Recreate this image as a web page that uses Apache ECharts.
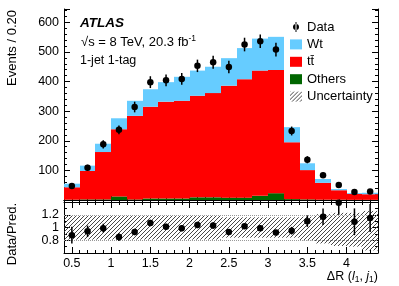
<!DOCTYPE html>
<html><head><meta charset="utf-8">
<script src="https://cdn.jsdelivr.net/npm/echarts@6/dist/echarts.min.js"></script>
<style>html,body{margin:0;padding:0;background:#fff}#c{width:399px;height:286px}</style>
</head><body><div id="c"></div>
<script>
// ---- data ----
const binLow = [0.4, 0.6, 0.8, 1.0, 1.2, 1.4, 1.6, 1.8, 2.0, 2.2, 2.4, 2.6, 2.8, 3.0, 3.2, 3.4, 3.6, 3.8, 4.0, 4.2];
const binWidth = 0.2;
const othersValues = [1, 2, 2, 12, 2, 5, 5, 5, 9, 9, 8, 8, 14, 23, 3, 2, 1, 1, 0.5, 0.5];
const ttbarValues = [42, 96, 160, 227, 282, 310, 327, 330, 343, 352, 378, 400, 423, 416, 192, 99, 57, 32, 20, 19];
const wtValues = [12, 18, 28, 37, 51, 59, 66, 81, 85, 89, 93, 105, 108, 112, 51, 23, 13, 4, 3, 5];
const dataValues = [47, 109, 188, 237, 314, 398, 404, 409, 453, 465, 449, 525, 536, 508, 233, 136, 84, 51, 27, 29];
const dataErrors = [7, 10, 14, 15, 18, 20, 20, 20, 21, 22, 21, 23, 23, 23, 15, 12, 9, 7, 5, 5];
const ratioValues = [0.88, 0.94, 0.99, 0.85, 0.93, 1.07, 1.01, 0.99, 1.04, 1.03, 0.93, 1.02, 0.99, 0.92, 0.95, 1.10, 1.17, 1.39, 1.09, 1.15];
const ratioErrors = [0.13, 0.09, 0.07, 0.06, 0.05, 0.05, 0.05, 0.05, 0.05, 0.05, 0.04, 0.04, 0.04, 0.04, 0.06, 0.09, 0.13, 0.19, 0.21, 0.22];
const bandUp = [1.19, 1.19, 1.19, 1.19, 1.19, 1.19, 1.19, 1.19, 1.19, 1.19, 1.16, 1.16, 1.16, 1.16, 1.16, 1.17, 1.21, 1.23, 1.23, 1.26];
const bandLow = [0.81, 0.81, 0.81, 0.81, 0.81, 0.81, 0.81, 0.81, 0.81, 0.81, 0.84, 0.84, 0.84, 0.84, 0.84, 0.80, 0.75, 0.71, 0.70, 0.64];
const ratioRefLines = [0.8, 1.2];
const legendNames = ['Data', 'Wt', 'tt\u0304', 'Others', 'Uncertainty'];

const FONT = 'Liberation Sans, Arial, Helvetica, sans-serif';

// stacked boxes [xlo, xhi, ybottom, ytop]
const stackOthers = [], stackTtbar = [], stackWt = [];
binLow.forEach((lo, i) => {
  const hi = lo + binWidth;
  const b0 = 0, b1 = othersValues[i], b2 = b1 + ttbarValues[i], b3 = b2 + wtValues[i];
  stackOthers.push([lo, hi, b0, b1]);
  stackTtbar.push([lo, hi, b1, b2]);
  stackWt.push([lo, hi, b2, b3]);
});
const dataPts = binLow.map((lo, i) => [lo + binWidth / 2, dataValues[i]]);
const dataErr = binLow.map((lo, i) => [lo + binWidth / 2, dataValues[i] - dataErrors[i], dataValues[i] + dataErrors[i]]);
const ratioPts = binLow.map((lo, i) => [lo + binWidth / 2, ratioValues[i]]);
const ratioErr = binLow.map((lo, i) => [lo + binWidth / 2, ratioValues[i] - ratioErrors[i], ratioValues[i] + ratioErrors[i]]);
const bandBoxes = binLow.map((lo, i) => [lo, lo + binWidth, bandLow[i], bandUp[i]]);

// hatch pattern
const hc = document.createElement('canvas');
hc.width = 4; hc.height = 4;
const hx = hc.getContext('2d');
hx.strokeStyle = '#333'; hx.lineWidth = 0.9;
hx.beginPath();
hx.moveTo(-1, 5); hx.lineTo(5, -1);
hx.moveTo(-1, 1); hx.lineTo(1, -1);
hx.moveTo(3, 5); hx.lineTo(5, 3);
hx.stroke();
const hatch = { image: hc, repeat: 'repeat' };

function boxSeries(name, data, color, xi, yi, z) {
  return {
    type: 'custom', name, data, xAxisIndex: xi, yAxisIndex: yi, z: z || 2,
    encode: { x: [0, 1], y: [2, 3] },
    itemStyle: { color },
    clip: true,
    renderItem: (params, api) => {
      const p0 = api.coord([api.value(0), api.value(3)]);
      const p1 = api.coord([api.value(1), api.value(2)]);
      const x0 = Math.round(p0[0]), x1 = Math.round(p1[0]);
      return { type: 'rect', shape: { x: x0, y: p0[1], width: x1 - x0, height: p1[1] - p0[1] },
               style: { fill: color } };
    }
  };
}
function errSeries(name, data, xi, yi) {
  return {
    type: 'custom', name, data, xAxisIndex: xi, yAxisIndex: yi, z: 5,
    encode: { x: 0, y: [1, 2] }, clip: true,
    renderItem: (params, api) => {
      const a = api.coord([api.value(0), api.value(1)]);
      const b = api.coord([api.value(0), api.value(2)]);
      return { type: 'line', shape: { x1: a[0], y1: a[1], x2: b[0], y2: b[1] },
               style: { stroke: '#000', lineWidth: 1.5 } };
    }
  };
}

const axLine = { show: true, lineStyle: { color: '#000', width: 1 } };
function xAx(grid, pos, labels) {
  return {
    type: 'value', gridIndex: grid, position: pos, min: 0.4, max: 4.4, splitNumber: 8,
    axisLine: axLine,
    axisTick: { show: true, inside: true, length: 6, lineStyle: { color: '#000' } },
    minorTick: { show: true, splitNumber: 5, length: 3, lineStyle: { color: '#000' } },
    splitLine: { show: false },
    axisLabel: { show: labels, color: '#000', fontSize: 12.5, fontFamily: FONT, margin: 4,
                 showMinLabel: false, showMaxLabel: false }
  };
}
function yAx(grid, pos, labels, min, max, interval, minorSplit, fmt) {
  return {
    type: 'value', gridIndex: grid, position: pos, min, max, interval,
    axisLine: axLine,
    axisTick: { show: true, inside: true, length: 6, lineStyle: { color: '#000' } },
    minorTick: { show: true, splitNumber: minorSplit, length: 3, lineStyle: { color: '#000' } },
    splitLine: { show: false },
    axisLabel: { show: labels, color: '#000', fontSize: 12.5, fontFamily: FONT, margin: 5,
                 showMinLabel: false, showMaxLabel: false, formatter: fmt }
  };
}

const chart = echarts.init(document.getElementById('c'), null, { renderer: 'canvas' });
chart.setOption({
  animation: false,
  backgroundColor: '#fff',
  grid: [
    { left: 64, top: 9, width: 314, height: 191 },
    { left: 64, top: 202, width: 314, height: 51 }
  ],
  xAxis: [xAx(0, 'bottom', false), xAx(0, 'top', false), xAx(1, 'bottom', true), xAx(1, 'top', false)],
  yAxis: [
    yAx(0, 'left', true, 0, 645, 100, 5),
    yAx(0, 'right', false, 0, 645, 100, 5),
    yAx(1, 'left', true, 0.6, 1.4, 0.2, 2, v => Math.abs(v - 1) < 1e-9 ? '1' : v.toFixed(1)),
    yAx(1, 'right', false, 0.6, 1.4, 0.2, 2)
  ],
  legend: {
    orient: 'vertical', left: 290, top: 20.5, padding: 0, itemWidth: 12, itemHeight: 10, itemGap: 4.4,
    icon: 'rect', selectedMode: false,
    textStyle: { fontSize: 13, fontFamily: FONT, color: '#000' },
    data: [
      { name: legendNames[0], icon: 'path://M2.5,0h1v10h-1z M3,2a3,3 0 1,0 0.001,0z' },
      legendNames[1], legendNames[2], legendNames[3], legendNames[4]
    ]
  },
  series: [
    boxSeries(legendNames[3], stackOthers, '#006600', 0, 0, 2),
    boxSeries(legendNames[2], stackTtbar, '#ff0000', 0, 0, 2),
    boxSeries(legendNames[1], stackWt, '#66ccff', 0, 0, 2),
    errSeries('dataErr', dataErr, 0, 0),
    { type: 'scatter', name: legendNames[0], data: dataPts, xAxisIndex: 0, yAxisIndex: 0, z: 6,
      symbol: 'circle', symbolSize: 6.5, itemStyle: { color: '#000', opacity: 1 } },
    Object.assign(boxSeries(legendNames[4], bandBoxes, hatch, 2, 2, 2), {
      markLine: { silent: true, symbol: 'none', label: { show: false },
                  lineStyle: { type: 'dotted', color: '#999', width: 1 },
                  data: ratioRefLines.map(v => ({ yAxis: v })) }
    }),
    errSeries('ratioErr', ratioErr, 2, 2),
    { type: 'scatter', name: 'ratio', data: ratioPts, xAxisIndex: 2, yAxisIndex: 2, z: 6, clip: true,
      symbol: 'circle', symbolSize: 6.5, itemStyle: { color: '#000', opacity: 1 } }
  ],
  graphic: [
    { type: 'text', x: 80, y: 23.5, style: { text: 'ATLAS', fontSize: 13.5, fontWeight: 'bold', fontStyle: 'italic',
      fontFamily: FONT, fill: '#000', verticalAlign: 'middle' } },
    { type: 'text', x: 81, y: 42, style: {
      text: '{n|\u221As = 8 TeV, 20.3 fb}{p|-1}', fontFamily: FONT, fill: '#000', verticalAlign: 'middle',
      rich: { n: { fontSize: 13, fontFamily: FONT, lineHeight: 16 },
              p: { fontSize: 8.5, fontFamily: FONT, lineHeight: 9, verticalAlign: 'top' } } } },
    { type: 'text', x: 80, y: 60.5, style: { text: '1-jet 1-tag', fontSize: 12.5, fontFamily: FONT,
      fill: '#000', verticalAlign: 'middle' } },
    { type: 'text', x: 12, y: 10, rotation: Math.PI / 2, style: { text: 'Events / 0.20', fontSize: 13, fontFamily: FONT,
      fill: '#000', align: 'right', verticalAlign: 'middle' } },
    { type: 'text', x: 12, y: 203, rotation: Math.PI / 2, style: { text: 'Data/Pred.', fontSize: 13, fontFamily: FONT,
      fill: '#000', align: 'right', verticalAlign: 'middle' } },
    { type: 'text', x: 378, y: 277, style: {
      text: '\u0394R ({i|l}{s|1}, {i|j}{s|1})', fontSize: 12.5, fontFamily: FONT, fill: '#000',
      align: 'right', verticalAlign: 'middle',
      rich: { i: { fontSize: 12.5, fontStyle: 'italic', fontFamily: FONT, lineHeight: 14 },
              s: { fontSize: 8.5, fontFamily: FONT, verticalAlign: 'bottom', lineHeight: 9 } } } }
  ]
});
</script></body></html>
